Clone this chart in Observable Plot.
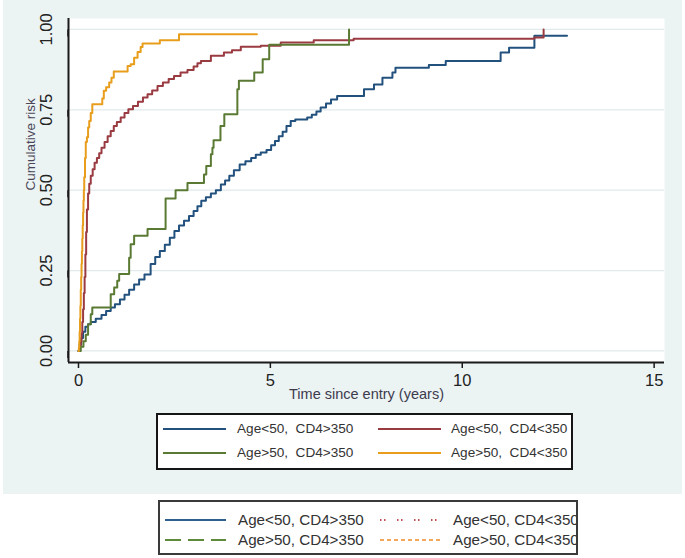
<!DOCTYPE html>
<html><head><meta charset="utf-8">
<script src="https://cdn.jsdelivr.net/npm/d3@7"></script>
<script src="https://cdn.jsdelivr.net/npm/@observablehq/plot@0.6"></script>
<style>
html,body{margin:0;padding:0;background:#fff;}
#wrap{position:relative;width:685px;height:558px;overflow:hidden;font-family:"Liberation Sans",Arial,sans-serif;}
#bg{position:absolute;left:3px;top:0;width:679px;height:494px;background:#ebf3f3;}
#chart{position:absolute;left:0;top:0;}
.leg{position:absolute;background:#fff;box-sizing:border-box;overflow:hidden;}
.leg .lab{position:absolute;white-space:pre;line-height:18px;height:18px;color:#333;}
.leg svg{position:absolute;overflow:visible;}
</style></head><body>
<div id="wrap"><div id="bg"></div><div id="chart"></div><div id="leg1" class="leg"></div><div id="leg2" class="leg"></div></div>
<script>
// ---- data ----
const groups = ["Age<50, CD4>350", "Age<50, CD4<350", "Age>50, CD4>350", "Age>50, CD4<350"];
const legend1Labels = ["Age<50,  CD4>350", "Age<50,  CD4<350", "Age>50,  CD4>350", "Age>50,  CD4<350"];
const legend2Labels = ["Age<50, CD4>350", "Age<50, CD4<350", "Age>50, CD4>350", "Age>50, CD4<350"];
const colors = ["#22517e", "#9a3b42", "#5a7a33", "#e89e1c"];
const legend2Colors = ["#2d5f8f", "#c0504d", "#5f8a3a", "#f08a24"];

const blueT = [0,0.03,0.07,0.12,0.18,0.25,0.32,0.45,0.6,0.72,0.84,0.95,1.08,1.2,1.32,1.45,1.58,1.72,1.88,2.0,2.12,2.25,2.38,2.5,2.62,2.75,2.88,3.0,3.1,3.2,3.32,3.45,3.58,3.71,3.82,3.93,4.05,4.2,4.35,4.5,4.62,4.75,4.9,5.02,5.12,5.22,5.32,5.42,5.53,5.65,5.96,6.08,6.2,6.31,6.45,6.58,6.74,7.44,7.7,7.92,8.18,8.26,9.13,9.57,11.0,11.22,11.88,12.73];
const blueR = [0,0.02,0.04,0.06,0.075,0.083,0.09,0.1,0.112,0.124,0.135,0.145,0.16,0.175,0.19,0.207,0.222,0.238,0.27,0.292,0.311,0.33,0.352,0.373,0.39,0.405,0.42,0.435,0.45,0.467,0.478,0.49,0.5,0.518,0.53,0.545,0.562,0.58,0.59,0.6,0.61,0.617,0.625,0.64,0.653,0.668,0.682,0.7,0.715,0.72,0.726,0.735,0.745,0.757,0.77,0.782,0.793,0.814,0.829,0.85,0.866,0.881,0.889,0.902,0.928,0.943,0.98,0.98];

const redT = [0,0.02,0.04,0.06,0.08,0.1,0.12,0.14,0.16,0.18,0.2,0.22,0.25,0.28,0.32,0.37,0.42,0.48,0.54,0.6,0.68,0.76,0.84,0.92,1.0,1.1,1.2,1.3,1.42,1.55,1.68,1.8,1.92,2.06,2.2,2.35,2.49,2.66,2.84,3.0,3.1,3.19,3.45,3.79,4.0,4.23,4.75,5.27,6.13,7.17,11.88,12.12];
const redR = [0,0.005,0.015,0.03,0.055,0.09,0.13,0.18,0.23,0.3,0.37,0.44,0.49,0.52,0.545,0.565,0.585,0.6,0.615,0.632,0.65,0.668,0.684,0.7,0.712,0.726,0.74,0.752,0.762,0.775,0.788,0.798,0.81,0.824,0.835,0.846,0.855,0.866,0.874,0.885,0.895,0.902,0.918,0.928,0.935,0.946,0.949,0.959,0.966,0.971,0.975,1.0];

const greenT = [0,0.06,0.13,0.19,0.25,0.32,0.36,0.84,0.93,1.01,1.06,1.32,1.36,1.45,1.8,2.27,2.53,2.84,3.27,3.33,3.45,3.49,3.52,3.7,3.8,4.14,4.18,4.58,4.8,4.97,7.05];
const greenR = [0,0.013,0.03,0.05,0.083,0.114,0.135,0.176,0.197,0.218,0.239,0.29,0.332,0.358,0.379,0.474,0.5,0.522,0.549,0.575,0.612,0.632,0.655,0.7,0.736,0.814,0.84,0.866,0.907,0.952,1.0];

const orangeT = [0,0.01,0.02,0.03,0.04,0.05,0.06,0.07,0.08,0.09,0.1,0.11,0.12,0.13,0.14,0.15,0.17,0.19,0.22,0.25,0.28,0.32,0.36,0.62,0.66,0.72,0.8,0.86,0.92,1.28,1.36,1.45,1.54,1.62,1.67,2.12,2.62,4.65];
const orangeR = [0,0.01,0.03,0.06,0.1,0.14,0.19,0.23,0.27,0.31,0.35,0.39,0.43,0.467,0.5,0.54,0.6,0.65,0.665,0.695,0.715,0.74,0.767,0.785,0.809,0.82,0.835,0.85,0.869,0.886,0.892,0.912,0.93,0.945,0.956,0.966,0.985,0.985];

const xTicks = [0, 5, 10, 15];
const yTicks = [0, 0.25, 0.5, 0.75, 1];
const xDomain = [-0.26, 15.27];
const yDomain = [-0.036, 1.034];

// ---- build rows ----
const seriesT = [blueT, redT, greenT, orangeT];
const seriesR = [blueR, redR, greenR, orangeR];
const rows = groups.flatMap((g, i) => seriesT[i].map((t, j) => ({group: g, t, r: seriesR[i][j]})));

const fontTick = "'Liberation Sans', Arial, sans-serif";

const plot = Plot.plot({
  width: 685, height: 410,
  marginLeft: 68, marginRight: 21, marginTop: 18, marginBottom: 48,
  style: {background: "transparent", overflow: "visible"},
  x: {domain: xDomain},
  y: {domain: yDomain},
  color: {domain: groups, range: colors},
  marks: [
    Plot.frame({fill: "#ffffff", stroke: "none"}),
    Plot.gridY(yTicks, {stroke: "#e1eaec", strokeOpacity: 1, strokeWidth: 1.2}),
    Plot.line(rows, {x: "t", y: "r", z: "group", stroke: "group", curve: "step-after", strokeWidth: 2}),
    Plot.ruleX([xDomain[0]], {stroke: "#1a1a1a", strokeWidth: 2}),
    Plot.ruleY([yDomain[0]], {stroke: "#1a1a1a", strokeWidth: 2}),
    Plot.axisX(xTicks, {tickSize: 6, tickPadding: 6, fontSize: 16.5, fill: "#222", stroke: "#1a1a1a", strokeWidth: 1.5, label: null, fontFamily: fontTick}),
    Plot.axisY(yTicks, {tickSize: 7, tickPadding: 15, rotate: -90, textAnchor: "middle", tickFormat: d3.format(".2f"), fontSize: 16.5, fill: "#222", stroke: "#1a1a1a", strokeWidth: 1.5, label: null, fontFamily: fontTick}),
    Plot.text(["Time since entry (years)"], {text: d => d, frameAnchor: "bottom", dy: 36, fontSize: 14.5, fill: "#3d3a4e", fontFamily: fontTick}),
    Plot.text(["Cumulative risk"], {text: d => d, frameAnchor: "left", dx: -38, rotate: -90, fontSize: 13.5, fill: "#4a4658", fontFamily: fontTick})
  ]
});
document.getElementById("chart").appendChild(plot);

// ---- legends ----
function buildLegend(el, box, labels, cols, styles, fontSize) {
  Object.assign(el.style, {left: box.left + "px", top: box.top + "px", width: box.w + "px", height: box.h + "px",
    border: box.border, fontSize: fontSize + "px"});
  labels.forEach((lab, i) => {
    const row = i < 2 ? 0 : 1, col = i % 2;
    const cy = box.rows[row];
    const svg = document.createElementNS("http://www.w3.org/2000/svg", "svg");
    svg.setAttribute("width", box.lineW); svg.setAttribute("height", 6);
    svg.style.left = box.lineX[col] + "px"; svg.style.top = (cy - 3) + "px";
    const ln = document.createElementNS("http://www.w3.org/2000/svg", "line");
    ln.setAttribute("x1", 0); ln.setAttribute("x2", box.lineW); ln.setAttribute("y1", 3); ln.setAttribute("y2", 3);
    ln.setAttribute("stroke", cols[i]); ln.setAttribute("stroke-width", styles[i].w);
    if (styles[i].dash) ln.setAttribute("stroke-dasharray", styles[i].dash);
    svg.appendChild(ln); el.appendChild(svg);
    const d = document.createElement("div"); d.className = "lab"; d.textContent = lab;
    d.style.left = box.textX[col] + "px"; d.style.top = (cy - 9) + "px";
    el.appendChild(d);
  });
}
buildLegend(document.getElementById("leg1"),
  {left: 156, top: 413, w: 417, h: 57, border: "2px solid #151515", rows: [13.5, 38], lineX: [5, 220], textX: [79, 293], lineW: 63},
  legend1Labels, colors, [{w: 2}, {w: 2}, {w: 2}, {w: 2}], 13.6);
buildLegend(document.getElementById("leg2"),
  {left: 158, top: 500, w: 420, h: 55, border: "2px solid #3a3a3a", rows: [18, 38], lineX: [5, 220], textX: [78, 293], lineW: 61},
  legend2Labels, legend2Colors, [{w: 2}, {w: 2, dash: "1.5 2.5 1.5 11.5"}, {w: 2, dash: "16 7"}, {w: 1.5, dash: "4 3"}], 15.2);
</script>
</body></html>
